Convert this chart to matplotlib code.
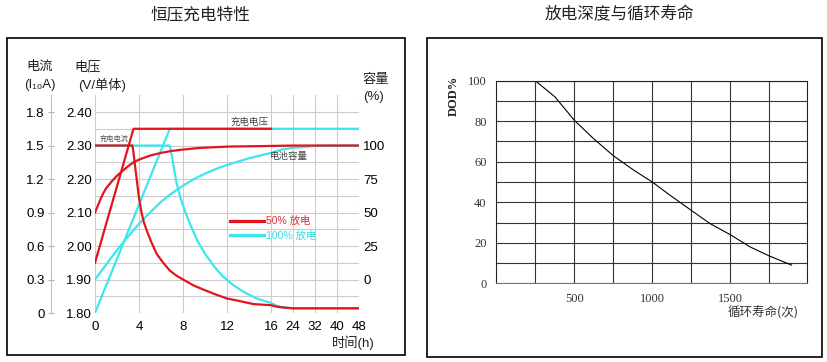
import numpy as np
import matplotlib
matplotlib.use('Agg')
import matplotlib.pyplot as plt
from matplotlib.patches import Rectangle
from matplotlib.lines import Line2D

plt.rcParams['font.family'] = ['Liberation Sans Narrow', 'Liberation Sans', 'Noto Sans CJK SC', 'DejaVu Sans']
plt.rcParams['axes.unicode_minus'] = False

# ---- 恒压充电特性 (time in h) ----
t_volt_50 = [0, 3.5, 16]
v_volt_50 = [1.95, 2.35, 2.35]
t_volt_100 = [0, 6.8, 48]
v_volt_100 = [1.80, 2.35, 2.35]

# charging current, I10A
t_cur_50 = [0, 3.4, 3.5, 3.6, 3.8, 4.0, 4.25, 4.45, 4.7, 5.1, 5.6, 6.2, 6.8, 7.4, 8, 9, 9.85,
            11, 12, 13, 14.4, 16, 18, 20, 24, 48]
i_cur_50 = [1.5, 1.5, 1.44, 1.35, 1.19, 1.03, 0.89, 0.81, 0.74, 0.64, 0.53, 0.45, 0.38, 0.335,
            0.30, 0.245, 0.21, 0.165, 0.13, 0.11, 0.08, 0.07, 0.057, 0.05, 0.042, 0.042]
t_cur_100 = [0, 6.8, 7.0, 7.4, 7.8, 8.3, 8.8, 9.3, 10, 10.8, 11.6, 12.5, 13.5, 14.7, 16, 18,
             20, 24, 48]
i_cur_100 = [1.5, 1.5, 1.40, 1.17, 1.02, 0.88, 0.76, 0.65, 0.53, 0.42, 0.33, 0.255, 0.19,
             0.13, 0.09, 0.065, 0.053, 0.042, 0.042]

# battery capacity, %
t_cap_50 = [0, 0.25, 0.5, 0.76, 1.0, 1.5, 2, 2.5, 3, 3.5, 4, 5, 6, 7, 8, 9.5, 12, 16, 24, 48]
c_cap_50 = [50, 55, 60, 64.5, 68, 73, 77.5, 81, 84.5, 87.5, 89.5, 92.5, 94.5, 96, 97, 98.2,
            99.2, 99.7, 100, 100]
t_cap_100 = [0, 1, 2, 3, 4, 5, 6, 7, 8, 9, 10, 11, 12, 13, 14, 15, 16, 20, 24, 32, 40, 48]
c_cap_100 = [0, 11, 22, 32, 41.5, 50, 58, 64.5, 70, 75, 79, 82.5, 85.5, 88, 90.5, 92.5, 94.5,
             97, 98.3, 99.7, 100, 100]

time_ticks = [0, 4, 8, 12, 16, 24, 32, 40, 48]
volt_ticks = [1.80, 1.90, 2.00, 2.10, 2.20, 2.30, 2.40]
cur_ticks = [0, 0.3, 0.6, 0.9, 1.2, 1.5, 1.8]
cap_ticks = [0, 25, 50, 75, 100]

# ---- 放电深度与循环寿命 ----
cycles = [250, 376, 500, 622, 750, 878, 1000, 1113, 1250, 1370, 1500, 1626, 1750, 1893]
dod = [100, 92, 80.5, 71.5, 63, 56, 50, 43.5, 36, 29.5, 24, 18, 13.5, 9]

RED = '#e3141c'
CYAN = '#3ce6ea'
W, H = 827, 362


def px(x, y):
    return x / W, 1 - y / H


def fwd(t):
    t = np.asarray(t, dtype=float)
    return np.where(t <= 16, t / 4, 4 + (t - 16) / 16)


def inv(p):
    p = np.asarray(p, dtype=float)
    return np.where(p <= 4, p * 4, 16 + (p - 4) * 16)


def i2v(i):
    return 1.80 + np.asarray(i, dtype=float) / 3


def v2i(v):
    return (np.asarray(v, dtype=float) - 1.80) * 3


def c2v(c):
    return 1.90 + np.asarray(c, dtype=float) / 250


def v2c(v):
    return (np.asarray(v, dtype=float) - 1.90) * 250


fig = plt.figure(figsize=(W / 100, H / 100), dpi=100)

# ---------------- left chart ----------------
ax1 = fig.add_axes([95 / W, 1 - 313 / H, 264 / W, (313 - 95.3) / H])
ax1.set_xscale('function', functions=(fwd, inv))
ax1.set_xlim(0, 48)
ax1.set_ylim(1.80, 2.45)

lw = 1.6
ax1.plot(t_cap_100, c2v(c_cap_100), color=CYAN, lw=lw)
ax1.plot(t_cur_100, i2v(i_cur_100), color=CYAN, lw=lw)
ax1.plot(t_volt_100, v_volt_100, color=CYAN, lw=lw)
ax1.plot(t_cap_50, c2v(c_cap_50), color=RED, lw=lw)
ax1.plot(t_cur_50, i2v(i_cur_50), color=RED, lw=lw)
ax1.plot(t_volt_50, v_volt_50, color=RED, lw=lw)

ax1.set_xticks(time_ticks)
ax1.set_xticklabels([str(t) for t in time_ticks])
ax1.set_yticks(volt_ticks)
ax1.set_yticklabels(['%.2f' % v for v in volt_ticks])
ax1.set_yticks(np.arange(1.85, 2.41, 0.1), minor=True)
ax1.grid(which='both', color='#cccccc', lw=0.8)
ax1.set_axisbelow(True)
for s in ax1.spines.values():
    s.set_visible(False)
ax1.tick_params(which='both', length=0, labelsize=9.5)
ax1.tick_params(axis='y', pad=2)
ax1.tick_params(axis='x', pad=6)

sec_i = ax1.secondary_yaxis(-0.1667, functions=(v2i, i2v))
sec_i.set_yticks(cur_ticks)
sec_i.set_yticklabels(['0' if c == 0 else '%.1f' % c for c in cur_ticks])
sec_i.spines['left'].set_color('#c0c0c0')
sec_i.tick_params(direction='inout', length=5, color='#b0b0b0', pad=2, labelsize=9.5)

sec_c = ax1.secondary_yaxis('right', functions=(v2c, c2v))
sec_c.set_yticks(cap_ticks)
sec_c.set_yticklabels([str(c) for c in cap_ticks])
sec_c.spines['right'].set_visible(False)
sec_c.tick_params(length=0, pad=3, labelsize=9.5)

l50 = Line2D([], [], color=RED, lw=2.3)
l100 = Line2D([], [], color=CYAN, lw=2.3)
ax1.legend(handles=[l50, l100], labels=['50% 放电', '100% 放电'], loc='upper left',
           bbox_to_anchor=(0.511, 0.445), frameon=False, fontsize=7.5, handlelength=3.3,
           handletextpad=0.2, labelspacing=0.45, borderpad=0, borderaxespad=0,
           labelcolor=['#e3303a', '#38dde4'])

fs = 9.5
fig.text(*px(40, 67), '电流', ha='center', va='center', fontsize=fs, color='#222222')
fig.text(*px(40, 85), '(I₁₀A)', ha='center', va='center', fontsize=fs, color='#222222')
fig.text(*px(74, 67), '电压', ha='left', va='center', fontsize=fs, color='#222222')
fig.text(*px(78, 85), '(V/单体)', ha='left', va='center', fontsize=fs, color='#222222')
fig.text(*px(362, 80), '容量', ha='left', va='center', fontsize=fs, color='#222222')
fig.text(*px(363, 97), '(%)', ha='left', va='center', fontsize=fs, color='#222222')
fig.text(*px(375, 343), '时间(h)', ha='right', va='center', fontsize=fs, color='#222222')
fig.text(*px(100, 139), '充电电流', ha='left', va='center', fontsize=5.2, color='#555555')
fig.text(*px(230, 122), '充电电压', ha='left', va='center', fontsize=6.8, color='#444444')
fig.text(*px(270, 157), '电池容量', ha='left', va='center', fontsize=6.8, color='#444444')

# ---------------- right chart ----------------
ax2 = fig.add_axes([496.3 / W, 1 - 283.3 / H, (806.7 - 496.3) / W, (283.3 - 80.7) / H])
ax2.plot(cycles, dod, color='black', lw=0.8)
ax2.set_xlim(0, 1990)
ax2.set_ylim(0, 100)
ax2.set_xticks([500, 1000, 1500])
ax2.set_xticks([250, 750, 1250, 1750], minor=True)
ax2.set_yticks([0, 20, 40, 60, 80, 100])
ax2.set_yticks([10, 30, 50, 70, 90], minor=True)
ax2.grid(which='both', color='#333333', lw=0.8)
ax2.set_axisbelow(True)
for s in ax2.spines.values():
    s.set_color('#222222')
    s.set_linewidth(0.8)
ax2.spines['bottom'].set_color('#777777')
ax2.tick_params(which='both', length=0, labelsize=9, labelcolor='#333333')
ax2.tick_params(axis='y', pad=7)
ax2.tick_params(axis='x', pad=7)
for lab in ax2.get_xticklabels() + ax2.get_yticklabels():
    lab.set_family(['Liberation Serif', 'DejaVu Serif'])

fig.text(*px(454, 96), 'DOD%', rotation=90, ha='center', va='center', fontsize=9,
         fontweight='bold', family=['Liberation Serif', 'DejaVu Serif'], color='#222222')
fig.text(*px(799, 313), '循环寿命(次)', ha='right', va='center', fontsize=9,
         family=['Noto Sans CJK SC', 'DejaVu Sans'], color='#333333')

# ---------------- titles and frames ----------------
fig.text(*px(200, 15), '恒压充电特性', ha='center', va='center', fontsize=12,
         family=['Noto Sans CJK SC', 'DejaVu Sans'], color='#222222')
fig.text(*px(619, 15), '放电深度与循环寿命', ha='center', va='center', fontsize=12,
         family=['Noto Sans CJK SC', 'DejaVu Sans'], color='#222222')

fig.add_artist(Rectangle(px(7, 355), (405 - 7) / W, (355 - 38) / H, transform=fig.transFigure,
                         fill=False, lw=1.2, ec='black'))
fig.add_artist(Rectangle(px(427, 357), (822 - 427) / W, (357 - 38) / H, transform=fig.transFigure,
                         fill=False, lw=1.2, ec='black'))

fig.savefig('out.png', dpi=100, facecolor='white')
